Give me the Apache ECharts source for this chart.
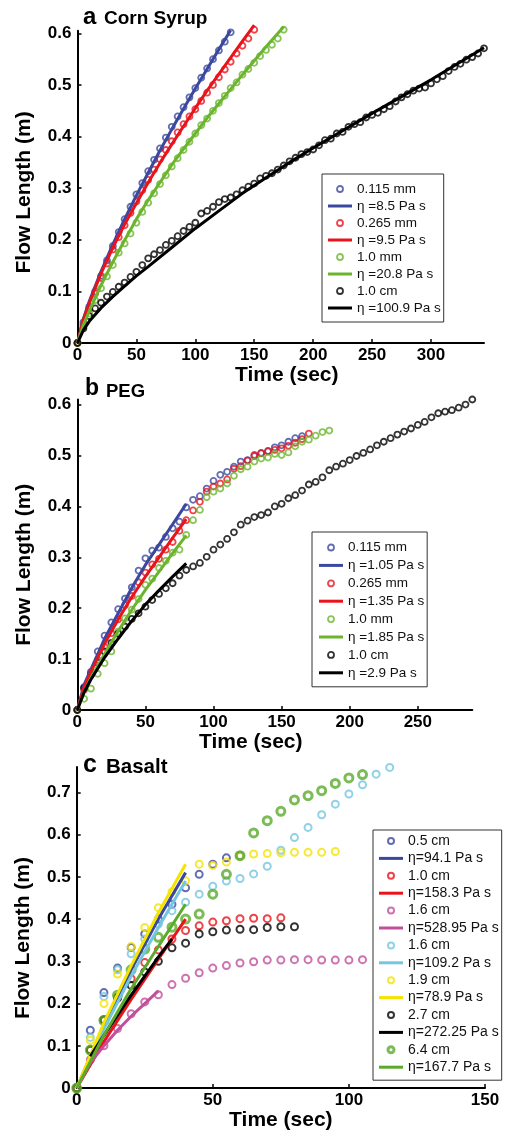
<!DOCTYPE html>
<html><head><meta charset="utf-8">
<script src="https://cdn.jsdelivr.net/npm/echarts@6/dist/echarts.min.js"></script>
<style>html,body{margin:0;padding:0;background:#fff}#c{width:505px;height:1132px}</style>
</head><body><div id="c"></div>
<script>
const FONT = '"Liberation Sans", Arial, Helvetica, sans-serif';

// ---------- Panel a: Corn Syrup ----------
const aTime = [0,5,10,15,20,25,30,35,40,45,50,55,60,65,70,75,80,85,90,95,100,105,110,115,120,125,130,135,140,145,150,155,160,165,170,175,180,185,190,195,200,205,210,215,220,225,230,235,240,245,250,255,260,265,270,275,280,285,290,295,300,305,310,315,320,325,330,335,340,345];
const aBlue  = [0,0.04,0.07,0.10,0.13,0.16,0.188,0.215,0.24,0.264,0.288,0.31,0.333,0.355,0.377,0.398,0.419,0.439,0.457,0.476,0.494,0.514,0.532,0.55,0.567,0.584,0.602];
const aRed   = [0,0.035,0.066,0.096,0.126,0.154,0.181,0.205,0.228,0.252,0.274,0.296,0.316,0.336,0.356,0.374,0.391,0.408,0.424,0.439,0.453,0.469,0.485,0.5,0.515,0.53,0.545,0.561,0.576,0.59,0.607];
const aGreen = [0,0.032,0.057,0.083,0.106,0.129,0.151,0.175,0.193,0.212,0.233,0.254,0.272,0.29,0.308,0.325,0.342,0.358,0.374,0.39,0.406,0.422,0.435,0.45,0.465,0.479,0.494,0.505,0.52,0.531,0.543,0.556,0.568,0.578,0.59,0.607];
const aBlack = [0,0.028,0.052,0.067,0.078,0.090,0.099,0.109,0.117,0.128,0.138,0.151,0.164,0.172,0.180,0.190,0.198,0.207,0.217,0.225,0.233,0.251,0.256,0.264,0.273,0.279,0.282,0.288,0.296,0.303,0.309,0.319,0.324,0.329,0.336,0.344,0.352,0.359,0.366,0.370,0.375,0.383,0.393,0.396,0.406,0.409,0.419,0.424,0.428,0.437,0.442,0.446,0.453,0.459,0.468,0.476,0.482,0.489,0.493,0.495,0.503,0.511,0.517,0.527,0.535,0.541,0.549,0.554,0.561,0.571];
const aBlueFitT  = [0,5,10,20,30,40,50,60,70,80,90,100,110,120,130];
const aBlueFit   = [0,0.047,0.081,0.139,0.191,0.24,0.286,0.33,0.373,0.414,0.454,0.493,0.531,0.569,0.606];
const aRedFitT   = [0,5,10,20,30,40,50,60,70,80,90,100,110,120,130,140,150];
const aRedFit    = [0,0.045,0.078,0.135,0.185,0.23,0.271,0.311,0.349,0.385,0.42,0.455,0.489,0.521,0.553,0.585,0.616];
const aGreenFitT = [0,5,10,20,30,40,50,60,70,80,90,100,110,120,130,140,150,160,175];
const aGreenFit  = [0,0.035,0.062,0.112,0.157,0.199,0.24,0.277,0.311,0.345,0.376,0.406,0.436,0.464,0.492,0.52,0.547,0.574,0.613];
const aBlackFitT = [0,5,10,20,30,40,50,60,80,100,120,140,160,180,200,250,300,345];
const aBlackFit  = [0,0.025,0.042,0.068,0.09,0.11,0.13,0.148,0.185,0.222,0.256,0.29,0.32,0.35,0.378,0.445,0.51,0.572];
const aXTicks = [0,50,100,150,200,250,300];
const aYTicks = [0,0.1,0.2,0.3,0.4,0.5,0.6];
const aNames = ['0.115 mm','η =8.5 Pa s','0.265 mm','η =9.5 Pa s','1.0 mm','η =20.8 Pa s','1.0 cm','η =100.9 Pa s'];

// ---------- Panel b: PEG ----------
const bTime = [0,5,10,15,20,25,30,35,40,45,50,55,60,65,70,75,80,85,90,95,100,105,110,115,120,125,130,135,140,145,150,155,160,165,170,175,180,185,190,195,200,205,210,215,220,225,230,235,240,245,250,255,260,265,270,275,280,285,290];
const bBlue  = [0,0.045,0.075,0.115,0.146,0.172,0.198,0.219,0.241,0.274,0.298,0.313,0.319,0.34,0.357,0.37,0.398,0.413,0.42,0.435,0.45,0.462,0.468,0.478,0.488,0.491,0.499,0.505,0.509,0.516,0.52,0.527,0.534,0.538];
const bRed   = [0,0.04,0.072,0.098,0.124,0.151,0.178,0.206,0.224,0.251,0.27,0.286,0.297,0.315,0.33,0.352,0.373,0.392,0.409,0.429,0.439,0.445,0.453,0.474,0.479,0.49,0.501,0.504,0.508,0.511,0.514,0.519,0.525,0.532,0.543];
const bGreen = [0,0.022,0.042,0.071,0.092,0.115,0.154,0.18,0.197,0.218,0.246,0.258,0.279,0.293,0.309,0.315,0.344,0.373,0.393,0.418,0.429,0.435,0.445,0.46,0.473,0.478,0.488,0.494,0.496,0.503,0.501,0.506,0.518,0.527,0.531,0.539,0.546,0.549];
const bBlack = [0,0.043,0.069,0.093,0.115,0.132,0.150,0.164,0.179,0.190,0.203,0.216,0.228,0.239,0.249,0.264,0.275,0.282,0.289,0.301,0.315,0.325,0.336,0.349,0.364,0.372,0.379,0.383,0.388,0.4,0.405,0.416,0.422,0.431,0.443,0.448,0.457,0.471,0.478,0.484,0.491,0.499,0.505,0.512,0.520,0.527,0.534,0.541,0.547,0.553,0.560,0.566,0.575,0.583,0.586,0.589,0.594,0.600,0.610];
const bFitT      = [0,5,10,20,30,40,50,60,70,80];
const bBlueFit   = [0,0.05,0.08,0.14,0.19,0.24,0.285,0.325,0.365,0.405];
const bRedFit    = [0,0.045,0.075,0.13,0.178,0.222,0.262,0.3,0.338,0.375];
const bGreenFit  = [0,0.035,0.063,0.11,0.155,0.197,0.236,0.272,0.308,0.343];
const bBlackFit  = [0,0.035,0.06,0.103,0.14,0.175,0.207,0.235,0.262,0.288];
const bXTicks = [0,50,100,150,200,250];
const bYTicks = [0,0.1,0.2,0.3,0.4,0.5,0.6];
const bNames = ['0.115 mm','η =1.05 Pa s','0.265 mm','η =1.35 Pa s','1.0 mm','η =1.85 Pa s','1.0 cm','η =2.9 Pa s'];

// ---------- Panel c: Basalt ----------
const cTime = [0,5,10,15,20,25,30,35,40,45,50,55,60,65,70,75,80,85,90,95,100,105,110,115];
const cBlue      = [0,0.137,0.226,0.284,0.333,0.365,0.40,0.435,0.474,0.506,0.53,0.545,0.55];
const cRed       = [0,0.09,0.16,0.215,0.259,0.297,0.327,0.353,0.373,0.384,0.393,0.396,0.401,0.402,0.401,0.403];
const cPink      = [0,0.067,0.1,0.141,0.176,0.204,0.221,0.245,0.26,0.273,0.284,0.29,0.296,0.299,0.303,0.303,0.304,0.304,0.303,0.303,0.303,0.304];
const cLightBlue = [0,0.12,0.217,0.28,0.318,0.353,0.388,0.42,0.44,0.459,0.478,0.49,0.496,0.507,0.525,0.563,0.593,0.617,0.647,0.672,0.696,0.718,0.743,0.759];
const cYellow    = [0,0.113,0.2,0.27,0.335,0.38,0.427,0.465,0.491,0.53,0.527,0.535,0.549,0.554,0.555,0.557,0.558,0.558,0.558,0.56];
const cBlack     = [0,0.09,0.162,0.213,0.243,0.275,0.3,0.332,0.343,0.365,0.37,0.374,0.376,0.375,0.38,0.382,0.382];
const cGreen     = [0,0.09,0.16,0.22,0.28,0.329,0.357,0.381,0.4,0.412,0.459,0.506,0.55,0.604,0.633,0.655,0.682,0.692,0.704,0.721,0.734,0.742];
const cFitT       = [0,10,20,30,40];
const cBlueFit    = [0,0.15,0.28,0.40,0.51];
const cRedFit     = [0,0.11,0.21,0.305,0.40];
const cPinkFitT   = [0,5,10,15,20,25,30];
const cPinkFit    = [0,0.06,0.1,0.137,0.17,0.2,0.23];
const cLightBlueFit = [0,0.14,0.265,0.38,0.49];
const cYellowFit  = [0,0.155,0.29,0.415,0.53];
const cBlackFitT  = [5,10,20,30,35];
const cBlackFit   = [0.075,0.125,0.22,0.31,0.353];
const cGreenFit   = [0,0.125,0.235,0.335,0.435];
const cXTicks = [0,50,100,150];
const cYTicks = [0,0.1,0.2,0.3,0.4,0.5,0.6,0.7];
const cNames = ['0.5 cm','η=94.1 Pa s','1.0 cm','η=158.3 Pa s','1.6 cm','η=528.95 Pa s','1.6 cm','η=109.2 Pa s','1.9 cm','η=78.9 Pa s','2.7 cm','η=272.25 Pa s','6.4 cm','η=167.7 Pa s'];

// ---------- styling ----------
const C = {blue:'#3b489f', red:'#e8141c', green:'#6bb52e', black:'#000000', pink:'#c24f9c', lblue:'#74c6e1', yellow:'#f5e300', dgreen:'#5aab2c'};

function pts(t, v){ return v.map((y,i)=>[t[i], y]); }

const series = [];
const legendData = [[],[],[]];
let uid = 0;
function uniq(name){ uid++; return name + ' '.repeat(uid); }

function addScatter(k, name, t, v, color, size, bw){
  const n = uniq(name);
  series.push({type:'scatter', name:n, xAxisIndex:k, yAxisIndex:k, data:pts(t,v), symbol:'circle',
    symbolSize:size, silent:true, clip:false,
    itemStyle:{color:'rgba(255,255,255,0)', borderColor:color, borderWidth:bw}});
  legendData[k].push({name:n, icon:'circle', itemStyle:{color:'#fff', borderColor:color, borderWidth:bw}});
}
function addLine(k, name, t, v, color, w){
  const n = uniq(name);
  series.push({type:'line', name:n, xAxisIndex:k, yAxisIndex:k, data:pts(t,v), showSymbol:false, symbol:'none',
    silent:true, clip:false, lineStyle:{color:color, width:w}, itemStyle:{color:color}});
  legendData[k].push({name:n, icon:'path://M0,0H24V3H0Z', itemStyle:{color:color, borderWidth:0}});
}

// panel a
addScatter(0, aNames[0], aTime, aBlue, C.blue, 6, 1.8);
addLine(0, aNames[1], aBlueFitT, aBlueFit, C.blue, 3);
addScatter(0, aNames[2], aTime, aRed, C.red, 6, 1.8);
addLine(0, aNames[3], aRedFitT, aRedFit, C.red, 3);
addScatter(0, aNames[4], aTime, aGreen, C.green, 6, 1.8);
addLine(0, aNames[5], aGreenFitT, aGreenFit, C.green, 3);
addScatter(0, aNames[6], aTime, aBlack, C.black, 6, 1.8);
addLine(0, aNames[7], aBlackFitT, aBlackFit, C.black, 3);
// panel b
addScatter(1, bNames[0], bTime, bBlue, C.blue, 6, 1.8);
addLine(1, bNames[1], bFitT, bBlueFit, C.blue, 3);
addScatter(1, bNames[2], bTime, bRed, C.red, 6, 1.8);
addLine(1, bNames[3], bFitT, bRedFit, C.red, 3);
addScatter(1, bNames[4], bTime, bGreen, C.green, 6, 1.8);
addLine(1, bNames[5], bFitT, bGreenFit, C.green, 3);
addScatter(1, bNames[6], bTime, bBlack, C.black, 6, 1.8);
addLine(1, bNames[7], bFitT, bBlackFit, C.black, 3);
// panel c
addScatter(2, cNames[0], cTime, cBlue, C.blue, 7, 2);
addLine(2, cNames[1], cFitT, cBlueFit, C.blue, 3);
addScatter(2, cNames[2], cTime, cRed, C.red, 7, 2);
addLine(2, cNames[3], cFitT, cRedFit, C.red, 3);
addScatter(2, cNames[4], cTime, cPink, C.pink, 7, 2);
addLine(2, cNames[5], cPinkFitT, cPinkFit, C.pink, 3);
addScatter(2, cNames[6], cTime, cLightBlue, C.lblue, 7, 2);
addLine(2, cNames[7], cFitT, cLightBlueFit, C.lblue, 3);
addScatter(2, cNames[8], cTime, cYellow, C.yellow, 7, 2);
addLine(2, cNames[9], cFitT, cYellowFit, C.yellow, 3);
addScatter(2, cNames[10], cTime, cBlack, C.black, 7, 2);
addLine(2, cNames[11], cBlackFitT, cBlackFit, C.black, 3);
addScatter(2, cNames[12], cTime, cGreen, C.dgreen, 8, 3);
addLine(2, cNames[13], cFitT, cGreenFit, C.dgreen, 3);

const grids = [
  {left:77.5, top:30.8, width:406.5, height:312.2},
  {left:77.3, top:399.5, width:395, height:310.5},
  {left:76.7, top:767, width:408.3, height:323}
];
const xMax = [345, 290, 150];
const yMax = [0.605, 0.61, 0.76];
const xTicks = [aXTicks, bXTicks, cXTicks];
const yTicks = [aYTicks, bYTicks, cYTicks];
const xNamePad = [[0,0,0,12],[0,48,0,0],[0,0,0,0]];
const yNamePad = [[0,11,0,0],[0,20,0,0],[0,21,0,0]];

function axisCommon(){
  return {
    axisLine:{show:true, onZero:false, lineStyle:{color:'#000', width:2}},
    axisTick:{show:true, inside:true, length:4, lineStyle:{color:'#000', width:1.5}},
    splitLine:{show:false},
    axisLabel:{color:'#000', fontSize:17, fontWeight:'bold', fontFamily:FONT},
    nameTextStyle:{color:'#000', fontSize:21, fontWeight:'bold', fontFamily:FONT}
  };
}
const xAxes = [0,1,2].map(k=>{
  const a = axisCommon();
  a.axisTick.customValues = xTicks[k];
  a.axisLabel.customValues = xTicks[k];
  a.axisLabel.margin = 4;
  a.nameTextStyle.padding = xNamePad[k];
  return Object.assign(a, {gridIndex:k, type:'value', min:0, max:xMax[k], name:'Time (sec)', nameLocation:'middle', nameGap:k===2?20:22});
});
const yAxes = [0,1,2].map(k=>{
  const a = axisCommon();
  a.axisTick.customValues = yTicks[k];
  a.axisLabel.customValues = yTicks[k];
  a.axisLabel.margin = 6;
  a.nameTextStyle.padding = yNamePad[k];
  return Object.assign(a, {gridIndex:k, type:'value', min:0, max:yMax[k], name:'Flow Length (m)', nameLocation:'middle', nameGap:43});
});

const legendPos = [
  {left:322, top:174, padding:[8,3,7,6], itemGap:3, fs:13.5},
  {left:312, top:532, padding:[8.5,3,7,7], itemGap:3.9, fs:13.5},
  {left:373, top:830, padding:[4,3,6,6], itemGap:3.4, fs:14}
];
const legends = [0,1,2].map(k=>({
  orient:'vertical', itemWidth:24, itemHeight:6, selectedMode:false,
  left:legendPos[k].left, top:legendPos[k].top, padding:legendPos[k].padding, itemGap:legendPos[k].itemGap,
  borderColor:'#333', borderWidth:1, backgroundColor:'#fff', symbolKeepAspect:true,
  formatter: n => n.trim(),
  textStyle:{fontSize:legendPos[k].fs, color:'#111', lineHeight:14, fontFamily:FONT},
  data: legendData[k]
}));

const titles = [
  {text:'a', left:83, top:5.5, fs:24},
  {text:'Corn Syrup', left:104, top:9.5, fs:19},
  {text:'b', left:85, top:377.5, fs:23},
  {text:'PEG', left:106, top:382.3, fs:18.5},
  {text:'c', left:83, top:752.5, fs:25},
  {text:'Basalt', left:106, top:756.5, fs:20.5}
].map(t=>({text:t.text, left:t.left, top:t.top, padding:0,
  textStyle:{fontSize:t.fs, fontWeight:'bold', color:'#000', fontFamily:FONT}}));

const chart = echarts.init(document.getElementById('c'), null, {renderer:'canvas'});
chart.setOption({
  animation:false,
  backgroundColor:'#fff',
  title: titles,
  grid: grids,
  xAxis: xAxes,
  yAxis: yAxes,
  legend: legends,
  series: series
});
</script></body></html>
